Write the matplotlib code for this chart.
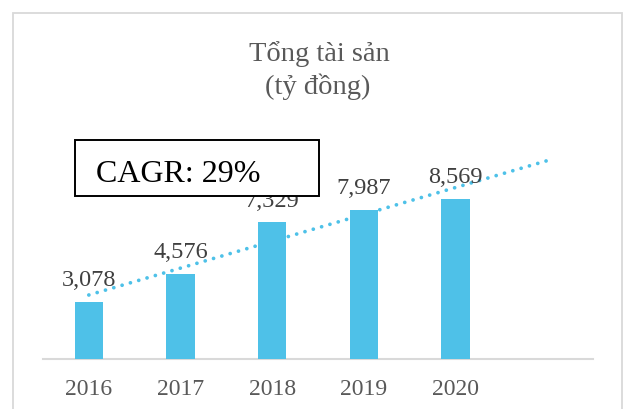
import matplotlib
matplotlib.use("Agg")
import matplotlib.pyplot as plt
import numpy as np
from matplotlib.patches import Rectangle

plt.rcParams['font.family'] = ['Liberation Serif', 'DejaVu Serif']

years = ["2016", "2017", "2018", "2019", "2020"]
values = [3078, 4576, 7329, 7987, 8569]
labels = ["3,078", "4,576", "7,329", "7,987", "8,569"]
title_lines = ["Tổng tài sản", "(tỷ đồng)"]
cagr_text = "CAGR: 29%"

W, H = 624, 410
fig = plt.figure(figsize=(W / 100, H / 100), dpi=100)

def fx(px):
    return px / W

def fy(py):
    return 1 - py / H

# chart border
fig.add_artist(Rectangle((fx(13), fy(430)), fx(622) - fx(13), fy(14) - fy(430),
                         transform=fig.transFigure, fill=False,
                         edgecolor="#d9d9d9", linewidth=1.3))

ax = fig.add_axes([fx(43), fy(360), fx(593) - fx(43), fy(136) - fy(360)])
bar_color = "#4EC1E8"
x = np.arange(len(years))
ax.bar(x, values, width=0.31, color=bar_color, zorder=2)

# linear trendline with 1 period forecast
coef = np.polyfit(x, values, 1)
xt = np.array([0, len(years)])
ax.plot(xt, np.polyval(coef, xt), color=bar_color, linewidth=2.7,
        linestyle=(0, (0.01, 2.3)), dash_capstyle="round", zorder=3)

for xi, v, lab in zip(x, values, labels):
    ax.annotate(lab, (xi, v), xytext=(0, 12), textcoords="offset points",
                ha="center", va="baseline", fontsize=17.5, color="#404040", zorder=4)

ax.set_xlim(-0.5, len(years) + 0.5)
ax.set_ylim(0, 12000)
ax.set_xticks(list(x))
ax.set_xticklabels(years, fontsize=17, color="#595959")
ax.tick_params(axis="x", length=0, pad=14)
ax.set_yticks([])
for s in ["top", "right", "left"]:
    ax.spines[s].set_visible(False)
ax.spines["bottom"].set_color("#d9d9d9")
ax.spines["bottom"].set_linewidth(1.5)
ax.spines["bottom"].set_zorder(1)

# title
fig.text(fx(319), fy(61), title_lines[0], ha="center", va="baseline",
         fontsize=20.5, color="#595959")
fig.text(fx(318), fy(94), title_lines[1], ha="center", va="baseline",
         fontsize=20.5, color="#595959")

# CAGR box
fig.add_artist(Rectangle((fx(75), fy(197)), fx(319) - fx(75), fy(141) - fy(197),
                         transform=fig.transFigure, facecolor="white",
                         edgecolor="black", linewidth=1.4, zorder=10))
fig.text(fx(96), fy(182), cagr_text, ha="left", va="baseline",
         fontsize=23, color="black", zorder=11)

fig.savefig("out.png", dpi=100, facecolor="white")
